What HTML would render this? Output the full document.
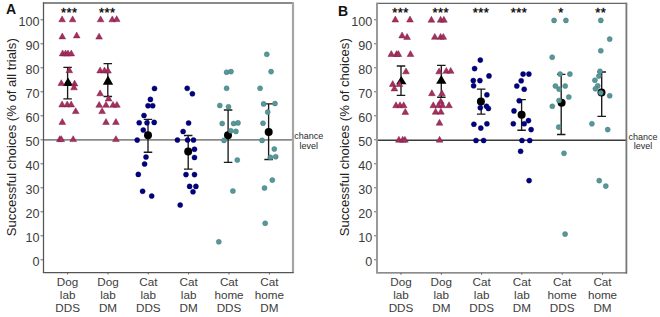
<!DOCTYPE html>
<html><head><meta charset="utf-8"><style>
html,body{margin:0;padding:0;background:#fff;width:660px;height:317px;overflow:hidden}
svg{display:block}
</style></head><body>
<svg width="660" height="317" viewBox="0 0 660 317">
<rect width="660" height="317" fill="#fff"/>
<line x1="40.50" y1="259.80" x2="43.50" y2="259.80" stroke="#6a6a6a" stroke-width="1"/>
<text x="39.60" y="266.00" text-anchor="end" font-size="12.6" fill="#3c3c3c" font-family="Liberation Sans, sans-serif">0</text>
<line x1="40.50" y1="235.80" x2="43.50" y2="235.80" stroke="#6a6a6a" stroke-width="1"/>
<text x="39.60" y="242.00" text-anchor="end" font-size="12.6" fill="#3c3c3c" font-family="Liberation Sans, sans-serif">10</text>
<line x1="40.50" y1="211.80" x2="43.50" y2="211.80" stroke="#6a6a6a" stroke-width="1"/>
<text x="39.60" y="218.00" text-anchor="end" font-size="12.6" fill="#3c3c3c" font-family="Liberation Sans, sans-serif">20</text>
<line x1="40.50" y1="187.80" x2="43.50" y2="187.80" stroke="#6a6a6a" stroke-width="1"/>
<text x="39.60" y="194.00" text-anchor="end" font-size="12.6" fill="#3c3c3c" font-family="Liberation Sans, sans-serif">30</text>
<line x1="40.50" y1="163.80" x2="43.50" y2="163.80" stroke="#6a6a6a" stroke-width="1"/>
<text x="39.60" y="170.00" text-anchor="end" font-size="12.6" fill="#3c3c3c" font-family="Liberation Sans, sans-serif">40</text>
<line x1="40.50" y1="139.80" x2="43.50" y2="139.80" stroke="#6a6a6a" stroke-width="1"/>
<text x="39.60" y="146.00" text-anchor="end" font-size="12.6" fill="#3c3c3c" font-family="Liberation Sans, sans-serif">50</text>
<line x1="40.50" y1="115.80" x2="43.50" y2="115.80" stroke="#6a6a6a" stroke-width="1"/>
<text x="39.60" y="122.00" text-anchor="end" font-size="12.6" fill="#3c3c3c" font-family="Liberation Sans, sans-serif">60</text>
<line x1="40.50" y1="91.80" x2="43.50" y2="91.80" stroke="#6a6a6a" stroke-width="1"/>
<text x="39.60" y="98.00" text-anchor="end" font-size="12.6" fill="#3c3c3c" font-family="Liberation Sans, sans-serif">70</text>
<line x1="40.50" y1="67.80" x2="43.50" y2="67.80" stroke="#6a6a6a" stroke-width="1"/>
<text x="39.60" y="74.00" text-anchor="end" font-size="12.6" fill="#3c3c3c" font-family="Liberation Sans, sans-serif">80</text>
<line x1="40.50" y1="43.80" x2="43.50" y2="43.80" stroke="#6a6a6a" stroke-width="1"/>
<text x="39.60" y="50.00" text-anchor="end" font-size="12.6" fill="#3c3c3c" font-family="Liberation Sans, sans-serif">90</text>
<line x1="40.50" y1="19.80" x2="43.50" y2="19.80" stroke="#6a6a6a" stroke-width="1"/>
<text x="39.60" y="26.00" text-anchor="end" font-size="12.6" fill="#3c3c3c" font-family="Liberation Sans, sans-serif">100</text>
<line x1="67.60" y1="272.50" x2="67.60" y2="274.50" stroke="#6a6a6a" stroke-width="1"/>
<text x="67.60" y="285.80" text-anchor="middle" font-size="11.7" fill="#3c3c3c" font-family="Liberation Sans, sans-serif">Dog</text>
<text x="67.60" y="298.90" text-anchor="middle" font-size="11.7" fill="#3c3c3c" font-family="Liberation Sans, sans-serif">lab</text>
<text x="67.60" y="312.00" text-anchor="middle" font-size="11.7" fill="#3c3c3c" font-family="Liberation Sans, sans-serif">DDS</text>
<line x1="108.00" y1="272.50" x2="108.00" y2="274.50" stroke="#6a6a6a" stroke-width="1"/>
<text x="108.00" y="285.80" text-anchor="middle" font-size="11.7" fill="#3c3c3c" font-family="Liberation Sans, sans-serif">Dog</text>
<text x="108.00" y="298.90" text-anchor="middle" font-size="11.7" fill="#3c3c3c" font-family="Liberation Sans, sans-serif">lab</text>
<text x="108.00" y="312.00" text-anchor="middle" font-size="11.7" fill="#3c3c3c" font-family="Liberation Sans, sans-serif">DM</text>
<line x1="148.30" y1="272.50" x2="148.30" y2="274.50" stroke="#6a6a6a" stroke-width="1"/>
<text x="148.30" y="285.80" text-anchor="middle" font-size="11.7" fill="#3c3c3c" font-family="Liberation Sans, sans-serif">Cat</text>
<text x="148.30" y="298.90" text-anchor="middle" font-size="11.7" fill="#3c3c3c" font-family="Liberation Sans, sans-serif">lab</text>
<text x="148.30" y="312.00" text-anchor="middle" font-size="11.7" fill="#3c3c3c" font-family="Liberation Sans, sans-serif">DDS</text>
<line x1="188.60" y1="272.50" x2="188.60" y2="274.50" stroke="#6a6a6a" stroke-width="1"/>
<text x="188.60" y="285.80" text-anchor="middle" font-size="11.7" fill="#3c3c3c" font-family="Liberation Sans, sans-serif">Cat</text>
<text x="188.60" y="298.90" text-anchor="middle" font-size="11.7" fill="#3c3c3c" font-family="Liberation Sans, sans-serif">lab</text>
<text x="188.60" y="312.00" text-anchor="middle" font-size="11.7" fill="#3c3c3c" font-family="Liberation Sans, sans-serif">DM</text>
<line x1="229.00" y1="272.50" x2="229.00" y2="274.50" stroke="#6a6a6a" stroke-width="1"/>
<text x="229.00" y="285.80" text-anchor="middle" font-size="11.7" fill="#3c3c3c" font-family="Liberation Sans, sans-serif">Cat</text>
<text x="229.00" y="298.90" text-anchor="middle" font-size="11.7" fill="#3c3c3c" font-family="Liberation Sans, sans-serif">home</text>
<text x="229.00" y="312.00" text-anchor="middle" font-size="11.7" fill="#3c3c3c" font-family="Liberation Sans, sans-serif">DDS</text>
<line x1="269.40" y1="272.50" x2="269.40" y2="274.50" stroke="#6a6a6a" stroke-width="1"/>
<text x="269.40" y="285.80" text-anchor="middle" font-size="11.7" fill="#3c3c3c" font-family="Liberation Sans, sans-serif">Cat</text>
<text x="269.40" y="298.90" text-anchor="middle" font-size="11.7" fill="#3c3c3c" font-family="Liberation Sans, sans-serif">home</text>
<text x="269.40" y="312.00" text-anchor="middle" font-size="11.7" fill="#3c3c3c" font-family="Liberation Sans, sans-serif">DM</text>
<text x="11.70" y="137.20" transform="rotate(-90 11.70 137.20)" text-anchor="middle" dominant-baseline="central" font-size="13.1" fill="#222" font-family="Liberation Sans, sans-serif">Successful choices (% of all trials)</text>
<text x="6.00" y="13.90" font-size="14" font-weight="bold" fill="#111" font-family="Liberation Sans, sans-serif">A</text>
<line x1="43.50" y1="139.90" x2="293.00" y2="139.90" stroke="#8a8a8a" stroke-width="1.8"/>
<text x="308.70" y="139.10" text-anchor="middle" font-size="9" fill="#2a2a2a" font-family="Liberation Sans, sans-serif">chance</text>
<text x="308.70" y="148.70" text-anchor="middle" font-size="9" fill="#2a2a2a" font-family="Liberation Sans, sans-serif">level</text>
<path d="M67.60 67.30V98.80M63.35 67.30H71.85M63.35 98.80H71.85" stroke="#1a1a1a" stroke-width="1.35" fill="none"/>
<path d="M107.80 63.60V96.50M103.55 63.60H112.05M103.55 96.50H112.05" stroke="#1a1a1a" stroke-width="1.35" fill="none"/>
<path d="M62.85 86.00L73.15 86.00L68.00 77.40Z" fill="#000"/>
<path d="M102.85 84.80L113.15 84.80L108.00 75.40Z" fill="#000"/>
<path d="M148.00 119.40V152.20M143.75 119.40H152.25M143.75 152.20H152.25" stroke="#1a1a1a" stroke-width="1.35" fill="none"/>
<path d="M188.20 135.50V169.10M183.95 135.50H192.45M183.95 169.10H192.45" stroke="#1a1a1a" stroke-width="1.35" fill="none"/>
<path d="M228.10 110.00V162.40M223.85 110.00H232.35M223.85 162.40H232.35" stroke="#1a1a1a" stroke-width="1.35" fill="none"/>
<path d="M268.60 103.90V159.50M264.35 103.90H272.85M264.35 159.50H272.85" stroke="#1a1a1a" stroke-width="1.35" fill="none"/>
<circle cx="148.00" cy="135.30" r="4.0" fill="#000"/>
<circle cx="188.20" cy="151.60" r="4.0" fill="#000"/>
<circle cx="228.00" cy="135.30" r="4.0" fill="#000"/>
<circle cx="268.70" cy="132.10" r="4.0" fill="#000"/>
<path d="M58.75 21.80L65.45 21.80L62.10 15.90Z" fill="#A92D5E" stroke="#6e1a3e" stroke-width="0.45" stroke-linejoin="round"/>
<path d="M69.25 21.80L75.95 21.80L72.60 15.90Z" fill="#A92D5E" stroke="#6e1a3e" stroke-width="0.45" stroke-linejoin="round"/>
<path d="M58.95 38.90L65.65 38.90L62.30 33.00Z" fill="#A92D5E" stroke="#6e1a3e" stroke-width="0.45" stroke-linejoin="round"/>
<path d="M73.35 37.90L80.05 37.90L76.70 32.00Z" fill="#A92D5E" stroke="#6e1a3e" stroke-width="0.45" stroke-linejoin="round"/>
<path d="M59.25 55.90L65.95 55.90L62.60 50.00Z" fill="#A92D5E" stroke="#6e1a3e" stroke-width="0.45" stroke-linejoin="round"/>
<path d="M62.15 55.90L68.85 55.90L65.50 50.00Z" fill="#A92D5E" stroke="#6e1a3e" stroke-width="0.45" stroke-linejoin="round"/>
<path d="M64.65 55.90L71.35 55.90L68.00 50.00Z" fill="#A92D5E" stroke="#6e1a3e" stroke-width="0.45" stroke-linejoin="round"/>
<path d="M67.95 55.90L74.65 55.90L71.30 50.00Z" fill="#A92D5E" stroke="#6e1a3e" stroke-width="0.45" stroke-linejoin="round"/>
<path d="M65.95 72.70L72.65 72.70L69.30 66.80Z" fill="#A92D5E" stroke="#6e1a3e" stroke-width="0.45" stroke-linejoin="round"/>
<path d="M57.95 85.60L64.65 85.60L61.30 79.70Z" fill="#A92D5E" stroke="#6e1a3e" stroke-width="0.45" stroke-linejoin="round"/>
<path d="M71.25 86.00L77.95 86.00L74.60 80.10Z" fill="#A92D5E" stroke="#6e1a3e" stroke-width="0.45" stroke-linejoin="round"/>
<path d="M70.65 89.80L77.35 89.80L74.00 83.90Z" fill="#A92D5E" stroke="#6e1a3e" stroke-width="0.45" stroke-linejoin="round"/>
<path d="M58.75 106.90L65.45 106.90L62.10 101.00Z" fill="#A92D5E" stroke="#6e1a3e" stroke-width="0.45" stroke-linejoin="round"/>
<path d="M63.85 106.90L70.55 106.90L67.20 101.00Z" fill="#A92D5E" stroke="#6e1a3e" stroke-width="0.45" stroke-linejoin="round"/>
<path d="M67.85 106.90L74.55 106.90L71.20 101.00Z" fill="#A92D5E" stroke="#6e1a3e" stroke-width="0.45" stroke-linejoin="round"/>
<path d="M72.35 113.60L79.05 113.60L75.70 107.70Z" fill="#A92D5E" stroke="#6e1a3e" stroke-width="0.45" stroke-linejoin="round"/>
<path d="M58.95 124.40L65.65 124.40L62.30 118.50Z" fill="#A92D5E" stroke="#6e1a3e" stroke-width="0.45" stroke-linejoin="round"/>
<path d="M56.45 141.60L63.15 141.60L59.80 135.70Z" fill="#A92D5E" stroke="#6e1a3e" stroke-width="0.45" stroke-linejoin="round"/>
<path d="M57.95 141.60L64.65 141.60L61.30 135.70Z" fill="#A92D5E" stroke="#6e1a3e" stroke-width="0.45" stroke-linejoin="round"/>
<path d="M69.85 141.60L76.55 141.60L73.20 135.70Z" fill="#A92D5E" stroke="#6e1a3e" stroke-width="0.45" stroke-linejoin="round"/>
<path d="M97.25 21.80L103.95 21.80L100.60 15.90Z" fill="#A92D5E" stroke="#6e1a3e" stroke-width="0.45" stroke-linejoin="round"/>
<path d="M108.95 21.80L115.65 21.80L112.30 15.90Z" fill="#A92D5E" stroke="#6e1a3e" stroke-width="0.45" stroke-linejoin="round"/>
<path d="M113.35 21.60L120.05 21.60L116.70 15.70Z" fill="#A92D5E" stroke="#6e1a3e" stroke-width="0.45" stroke-linejoin="round"/>
<path d="M95.75 39.10L102.45 39.10L99.10 33.20Z" fill="#A92D5E" stroke="#6e1a3e" stroke-width="0.45" stroke-linejoin="round"/>
<path d="M96.75 72.90L103.45 72.90L100.10 67.00Z" fill="#A92D5E" stroke="#6e1a3e" stroke-width="0.45" stroke-linejoin="round"/>
<path d="M101.15 72.90L107.85 72.90L104.50 67.00Z" fill="#A92D5E" stroke="#6e1a3e" stroke-width="0.45" stroke-linejoin="round"/>
<path d="M104.65 73.10L111.35 73.10L108.00 67.20Z" fill="#A92D5E" stroke="#6e1a3e" stroke-width="0.45" stroke-linejoin="round"/>
<path d="M96.75 95.80L103.45 95.80L100.10 89.90Z" fill="#A92D5E" stroke="#6e1a3e" stroke-width="0.45" stroke-linejoin="round"/>
<path d="M105.25 101.00L111.95 101.00L108.60 95.10Z" fill="#A92D5E" stroke="#6e1a3e" stroke-width="0.45" stroke-linejoin="round"/>
<path d="M95.85 107.30L102.55 107.30L99.20 101.40Z" fill="#A92D5E" stroke="#6e1a3e" stroke-width="0.45" stroke-linejoin="round"/>
<path d="M102.65 107.30L109.35 107.30L106.00 101.40Z" fill="#A92D5E" stroke="#6e1a3e" stroke-width="0.45" stroke-linejoin="round"/>
<path d="M109.65 107.30L116.35 107.30L113.00 101.40Z" fill="#A92D5E" stroke="#6e1a3e" stroke-width="0.45" stroke-linejoin="round"/>
<path d="M113.55 107.30L120.25 107.30L116.90 101.40Z" fill="#A92D5E" stroke="#6e1a3e" stroke-width="0.45" stroke-linejoin="round"/>
<path d="M98.75 113.60L105.45 113.60L102.10 107.70Z" fill="#A92D5E" stroke="#6e1a3e" stroke-width="0.45" stroke-linejoin="round"/>
<path d="M102.65 124.40L109.35 124.40L106.00 118.50Z" fill="#A92D5E" stroke="#6e1a3e" stroke-width="0.45" stroke-linejoin="round"/>
<path d="M112.55 124.40L119.25 124.40L115.90 118.50Z" fill="#A92D5E" stroke="#6e1a3e" stroke-width="0.45" stroke-linejoin="round"/>
<path d="M112.55 141.60L119.25 141.60L115.90 135.70Z" fill="#A92D5E" stroke="#6e1a3e" stroke-width="0.45" stroke-linejoin="round"/>
<circle cx="154.50" cy="88.50" r="2.55" fill="#000080" stroke="#000050" stroke-width="0.4"/>
<circle cx="150.40" cy="99.40" r="2.55" fill="#000080" stroke="#000050" stroke-width="0.4"/>
<circle cx="148.00" cy="105.70" r="2.55" fill="#000080" stroke="#000050" stroke-width="0.4"/>
<circle cx="152.70" cy="105.70" r="2.55" fill="#000080" stroke="#000050" stroke-width="0.4"/>
<circle cx="144.00" cy="115.50" r="2.55" fill="#000080" stroke="#000050" stroke-width="0.4"/>
<circle cx="139.20" cy="122.70" r="2.55" fill="#000080" stroke="#000050" stroke-width="0.4"/>
<circle cx="147.00" cy="122.80" r="2.55" fill="#000080" stroke="#000050" stroke-width="0.4"/>
<circle cx="154.20" cy="122.40" r="2.55" fill="#000080" stroke="#000050" stroke-width="0.4"/>
<circle cx="143.30" cy="130.00" r="2.55" fill="#000080" stroke="#000050" stroke-width="0.4"/>
<circle cx="137.20" cy="140.10" r="2.55" fill="#000080" stroke="#000050" stroke-width="0.4"/>
<circle cx="146.00" cy="157.00" r="2.55" fill="#000080" stroke="#000050" stroke-width="0.4"/>
<circle cx="144.60" cy="164.00" r="2.55" fill="#000080" stroke="#000050" stroke-width="0.4"/>
<circle cx="138.30" cy="174.40" r="2.55" fill="#000080" stroke="#000050" stroke-width="0.4"/>
<circle cx="142.60" cy="191.20" r="2.55" fill="#000080" stroke="#000050" stroke-width="0.4"/>
<circle cx="151.70" cy="196.00" r="2.55" fill="#000080" stroke="#000050" stroke-width="0.4"/>
<circle cx="187.20" cy="88.30" r="2.55" fill="#000080" stroke="#000050" stroke-width="0.4"/>
<circle cx="192.40" cy="93.80" r="2.55" fill="#000080" stroke="#000050" stroke-width="0.4"/>
<circle cx="188.60" cy="123.00" r="2.55" fill="#000080" stroke="#000050" stroke-width="0.4"/>
<circle cx="183.10" cy="131.50" r="2.55" fill="#000080" stroke="#000050" stroke-width="0.4"/>
<circle cx="177.40" cy="140.00" r="2.55" fill="#000080" stroke="#000050" stroke-width="0.4"/>
<circle cx="187.60" cy="140.00" r="2.55" fill="#000080" stroke="#000050" stroke-width="0.4"/>
<circle cx="193.50" cy="140.00" r="2.55" fill="#000080" stroke="#000050" stroke-width="0.4"/>
<circle cx="194.50" cy="149.20" r="2.55" fill="#000080" stroke="#000050" stroke-width="0.4"/>
<circle cx="194.50" cy="157.50" r="2.55" fill="#000080" stroke="#000050" stroke-width="0.4"/>
<circle cx="186.00" cy="174.60" r="2.55" fill="#000080" stroke="#000050" stroke-width="0.4"/>
<circle cx="194.50" cy="174.60" r="2.55" fill="#000080" stroke="#000050" stroke-width="0.4"/>
<circle cx="189.60" cy="186.40" r="2.55" fill="#000080" stroke="#000050" stroke-width="0.4"/>
<circle cx="195.90" cy="186.40" r="2.55" fill="#000080" stroke="#000050" stroke-width="0.4"/>
<circle cx="193.00" cy="191.80" r="2.55" fill="#000080" stroke="#000050" stroke-width="0.4"/>
<circle cx="180.20" cy="205.00" r="2.55" fill="#000080" stroke="#000050" stroke-width="0.4"/>
<circle cx="226.60" cy="72.20" r="2.55" fill="#57979A" stroke="#3d7375" stroke-width="0.4"/>
<circle cx="231.00" cy="71.60" r="2.55" fill="#57979A" stroke="#3d7375" stroke-width="0.4"/>
<circle cx="226.60" cy="88.30" r="2.55" fill="#57979A" stroke="#3d7375" stroke-width="0.4"/>
<circle cx="219.80" cy="105.50" r="2.55" fill="#57979A" stroke="#3d7375" stroke-width="0.4"/>
<circle cx="228.50" cy="106.80" r="2.55" fill="#57979A" stroke="#3d7375" stroke-width="0.4"/>
<circle cx="222.20" cy="123.50" r="2.55" fill="#57979A" stroke="#3d7375" stroke-width="0.4"/>
<circle cx="233.60" cy="123.50" r="2.55" fill="#57979A" stroke="#3d7375" stroke-width="0.4"/>
<circle cx="238.00" cy="122.90" r="2.55" fill="#57979A" stroke="#3d7375" stroke-width="0.4"/>
<circle cx="230.80" cy="130.80" r="2.55" fill="#57979A" stroke="#3d7375" stroke-width="0.4"/>
<circle cx="235.90" cy="131.40" r="2.55" fill="#57979A" stroke="#3d7375" stroke-width="0.4"/>
<circle cx="224.00" cy="140.40" r="2.55" fill="#57979A" stroke="#3d7375" stroke-width="0.4"/>
<circle cx="237.30" cy="160.00" r="2.55" fill="#57979A" stroke="#3d7375" stroke-width="0.4"/>
<circle cx="232.90" cy="191.00" r="2.55" fill="#57979A" stroke="#3d7375" stroke-width="0.4"/>
<circle cx="218.80" cy="241.80" r="2.55" fill="#57979A" stroke="#3d7375" stroke-width="0.4"/>
<circle cx="266.80" cy="54.30" r="2.55" fill="#57979A" stroke="#3d7375" stroke-width="0.4"/>
<circle cx="271.10" cy="71.60" r="2.55" fill="#57979A" stroke="#3d7375" stroke-width="0.4"/>
<circle cx="260.10" cy="88.30" r="2.55" fill="#57979A" stroke="#3d7375" stroke-width="0.4"/>
<circle cx="263.60" cy="103.90" r="2.55" fill="#57979A" stroke="#3d7375" stroke-width="0.4"/>
<circle cx="275.00" cy="103.50" r="2.55" fill="#57979A" stroke="#3d7375" stroke-width="0.4"/>
<circle cx="267.70" cy="112.10" r="2.55" fill="#57979A" stroke="#3d7375" stroke-width="0.4"/>
<circle cx="263.00" cy="123.20" r="2.55" fill="#57979A" stroke="#3d7375" stroke-width="0.4"/>
<circle cx="262.10" cy="140.40" r="2.55" fill="#57979A" stroke="#3d7375" stroke-width="0.4"/>
<circle cx="274.30" cy="149.00" r="2.55" fill="#57979A" stroke="#3d7375" stroke-width="0.4"/>
<circle cx="270.40" cy="157.30" r="2.55" fill="#57979A" stroke="#3d7375" stroke-width="0.4"/>
<circle cx="275.70" cy="156.70" r="2.55" fill="#57979A" stroke="#3d7375" stroke-width="0.4"/>
<circle cx="272.30" cy="180.10" r="2.55" fill="#57979A" stroke="#3d7375" stroke-width="0.4"/>
<circle cx="264.50" cy="188.00" r="2.55" fill="#57979A" stroke="#3d7375" stroke-width="0.4"/>
<circle cx="265.20" cy="223.30" r="2.55" fill="#57979A" stroke="#3d7375" stroke-width="0.4"/>
<text x="63.50" y="17.30" text-anchor="middle" font-size="13" fill="#000" stroke="#000" stroke-width="0.3" font-family="Liberation Sans, sans-serif">*</text><text x="69.00" y="17.30" text-anchor="middle" font-size="13" fill="#000" stroke="#000" stroke-width="0.3" font-family="Liberation Sans, sans-serif">*</text><text x="74.50" y="17.30" text-anchor="middle" font-size="13" fill="#000" stroke="#000" stroke-width="0.3" font-family="Liberation Sans, sans-serif">*</text>
<text x="101.50" y="17.30" text-anchor="middle" font-size="13" fill="#000" stroke="#000" stroke-width="0.3" font-family="Liberation Sans, sans-serif">*</text><text x="107.00" y="17.30" text-anchor="middle" font-size="13" fill="#000" stroke="#000" stroke-width="0.3" font-family="Liberation Sans, sans-serif">*</text><text x="112.50" y="17.30" text-anchor="middle" font-size="13" fill="#000" stroke="#000" stroke-width="0.3" font-family="Liberation Sans, sans-serif">*</text>
<path d="M42.90 3.00H293.60" stroke="#8a8a8a" stroke-width="2.0" fill="none"/>
<path d="M293.00 2.40V273.10" stroke="#a5a5a5" stroke-width="2.2" fill="none"/>
<path d="M43.50 2.40V273.10" stroke="#555" stroke-width="1.25" fill="none"/>
<path d="M42.90 272.50H293.60" stroke="#555" stroke-width="1.25" fill="none"/>
<line x1="374.00" y1="259.80" x2="377.00" y2="259.80" stroke="#6a6a6a" stroke-width="1"/>
<text x="372.20" y="266.00" text-anchor="end" font-size="12.6" fill="#3c3c3c" font-family="Liberation Sans, sans-serif">0</text>
<line x1="374.00" y1="235.80" x2="377.00" y2="235.80" stroke="#6a6a6a" stroke-width="1"/>
<text x="372.20" y="242.00" text-anchor="end" font-size="12.6" fill="#3c3c3c" font-family="Liberation Sans, sans-serif">10</text>
<line x1="374.00" y1="211.80" x2="377.00" y2="211.80" stroke="#6a6a6a" stroke-width="1"/>
<text x="372.20" y="218.00" text-anchor="end" font-size="12.6" fill="#3c3c3c" font-family="Liberation Sans, sans-serif">20</text>
<line x1="374.00" y1="187.80" x2="377.00" y2="187.80" stroke="#6a6a6a" stroke-width="1"/>
<text x="372.20" y="194.00" text-anchor="end" font-size="12.6" fill="#3c3c3c" font-family="Liberation Sans, sans-serif">30</text>
<line x1="374.00" y1="163.80" x2="377.00" y2="163.80" stroke="#6a6a6a" stroke-width="1"/>
<text x="372.20" y="170.00" text-anchor="end" font-size="12.6" fill="#3c3c3c" font-family="Liberation Sans, sans-serif">40</text>
<line x1="374.00" y1="139.80" x2="377.00" y2="139.80" stroke="#6a6a6a" stroke-width="1"/>
<text x="372.20" y="146.00" text-anchor="end" font-size="12.6" fill="#3c3c3c" font-family="Liberation Sans, sans-serif">50</text>
<line x1="374.00" y1="115.80" x2="377.00" y2="115.80" stroke="#6a6a6a" stroke-width="1"/>
<text x="372.20" y="122.00" text-anchor="end" font-size="12.6" fill="#3c3c3c" font-family="Liberation Sans, sans-serif">60</text>
<line x1="374.00" y1="91.80" x2="377.00" y2="91.80" stroke="#6a6a6a" stroke-width="1"/>
<text x="372.20" y="98.00" text-anchor="end" font-size="12.6" fill="#3c3c3c" font-family="Liberation Sans, sans-serif">70</text>
<line x1="374.00" y1="67.80" x2="377.00" y2="67.80" stroke="#6a6a6a" stroke-width="1"/>
<text x="372.20" y="74.00" text-anchor="end" font-size="12.6" fill="#3c3c3c" font-family="Liberation Sans, sans-serif">80</text>
<line x1="374.00" y1="43.80" x2="377.00" y2="43.80" stroke="#6a6a6a" stroke-width="1"/>
<text x="372.20" y="50.00" text-anchor="end" font-size="12.6" fill="#3c3c3c" font-family="Liberation Sans, sans-serif">90</text>
<line x1="374.00" y1="19.80" x2="377.00" y2="19.80" stroke="#6a6a6a" stroke-width="1"/>
<text x="372.20" y="26.00" text-anchor="end" font-size="12.6" fill="#3c3c3c" font-family="Liberation Sans, sans-serif">100</text>
<line x1="401.00" y1="272.80" x2="401.00" y2="274.80" stroke="#6a6a6a" stroke-width="1"/>
<text x="401.00" y="285.80" text-anchor="middle" font-size="11.7" fill="#3c3c3c" font-family="Liberation Sans, sans-serif">Dog</text>
<text x="401.00" y="298.90" text-anchor="middle" font-size="11.7" fill="#3c3c3c" font-family="Liberation Sans, sans-serif">lab</text>
<text x="401.00" y="312.00" text-anchor="middle" font-size="11.7" fill="#3c3c3c" font-family="Liberation Sans, sans-serif">DDS</text>
<line x1="441.30" y1="272.80" x2="441.30" y2="274.80" stroke="#6a6a6a" stroke-width="1"/>
<text x="441.30" y="285.80" text-anchor="middle" font-size="11.7" fill="#3c3c3c" font-family="Liberation Sans, sans-serif">Dog</text>
<text x="441.30" y="298.90" text-anchor="middle" font-size="11.7" fill="#3c3c3c" font-family="Liberation Sans, sans-serif">lab</text>
<text x="441.30" y="312.00" text-anchor="middle" font-size="11.7" fill="#3c3c3c" font-family="Liberation Sans, sans-serif">DM</text>
<line x1="481.60" y1="272.80" x2="481.60" y2="274.80" stroke="#6a6a6a" stroke-width="1"/>
<text x="481.60" y="285.80" text-anchor="middle" font-size="11.7" fill="#3c3c3c" font-family="Liberation Sans, sans-serif">Cat</text>
<text x="481.60" y="298.90" text-anchor="middle" font-size="11.7" fill="#3c3c3c" font-family="Liberation Sans, sans-serif">lab</text>
<text x="481.60" y="312.00" text-anchor="middle" font-size="11.7" fill="#3c3c3c" font-family="Liberation Sans, sans-serif">DDS</text>
<line x1="521.90" y1="272.80" x2="521.90" y2="274.80" stroke="#6a6a6a" stroke-width="1"/>
<text x="521.90" y="285.80" text-anchor="middle" font-size="11.7" fill="#3c3c3c" font-family="Liberation Sans, sans-serif">Cat</text>
<text x="521.90" y="298.90" text-anchor="middle" font-size="11.7" fill="#3c3c3c" font-family="Liberation Sans, sans-serif">lab</text>
<text x="521.90" y="312.00" text-anchor="middle" font-size="11.7" fill="#3c3c3c" font-family="Liberation Sans, sans-serif">DM</text>
<line x1="562.20" y1="272.80" x2="562.20" y2="274.80" stroke="#6a6a6a" stroke-width="1"/>
<text x="562.20" y="285.80" text-anchor="middle" font-size="11.7" fill="#3c3c3c" font-family="Liberation Sans, sans-serif">Cat</text>
<text x="562.20" y="298.90" text-anchor="middle" font-size="11.7" fill="#3c3c3c" font-family="Liberation Sans, sans-serif">home</text>
<text x="562.20" y="312.00" text-anchor="middle" font-size="11.7" fill="#3c3c3c" font-family="Liberation Sans, sans-serif">DDS</text>
<line x1="602.50" y1="272.80" x2="602.50" y2="274.80" stroke="#6a6a6a" stroke-width="1"/>
<text x="602.50" y="285.80" text-anchor="middle" font-size="11.7" fill="#3c3c3c" font-family="Liberation Sans, sans-serif">Cat</text>
<text x="602.50" y="298.90" text-anchor="middle" font-size="11.7" fill="#3c3c3c" font-family="Liberation Sans, sans-serif">home</text>
<text x="602.50" y="312.00" text-anchor="middle" font-size="11.7" fill="#3c3c3c" font-family="Liberation Sans, sans-serif">DM</text>
<text x="344.30" y="137.20" transform="rotate(-90 344.30 137.20)" text-anchor="middle" dominant-baseline="central" font-size="13.1" fill="#222" font-family="Liberation Sans, sans-serif">Successful choices (% of choices)</text>
<text x="338.00" y="16.00" font-size="14" font-weight="bold" fill="#111" font-family="Liberation Sans, sans-serif">B</text>
<line x1="377.00" y1="140.30" x2="626.40" y2="140.30" stroke="#3a3a3a" stroke-width="1.5"/>
<text x="643.10" y="139.70" text-anchor="middle" font-size="9" fill="#2a2a2a" font-family="Liberation Sans, sans-serif">chance</text>
<text x="643.10" y="149.30" text-anchor="middle" font-size="9" fill="#2a2a2a" font-family="Liberation Sans, sans-serif">level</text>
<path d="M401.00 66.00V95.40M396.75 66.00H405.25M396.75 95.40H405.25" stroke="#1a1a1a" stroke-width="1.35" fill="none"/>
<path d="M441.30 65.30V97.20M437.05 65.30H445.55M437.05 97.20H445.55" stroke="#1a1a1a" stroke-width="1.35" fill="none"/>
<path d="M396.15 84.30L406.45 84.30L401.30 76.00Z" fill="#000"/>
<path d="M436.15 83.80L446.45 83.80L441.30 74.90Z" fill="#000"/>
<path d="M481.20 89.10V114.10M476.95 89.10H485.45M476.95 114.10H485.45" stroke="#1a1a1a" stroke-width="1.35" fill="none"/>
<path d="M521.60 99.60V130.20M517.35 99.60H525.85M517.35 130.20H525.85" stroke="#1a1a1a" stroke-width="1.35" fill="none"/>
<path d="M561.20 74.40V134.50M556.95 74.40H565.45M556.95 134.50H565.45" stroke="#1a1a1a" stroke-width="1.35" fill="none"/>
<path d="M601.70 72.00V116.40M597.45 72.00H605.95M597.45 116.40H605.95" stroke="#1a1a1a" stroke-width="1.35" fill="none"/>
<circle cx="480.90" cy="101.40" r="4.0" fill="#000"/>
<circle cx="521.60" cy="114.80" r="4.0" fill="#000"/>
<circle cx="561.60" cy="102.80" r="4.0" fill="#000"/>
<circle cx="601.50" cy="92.60" r="4.0" fill="#000"/>
<path d="M391.95 22.00L398.65 22.00L395.30 16.10Z" fill="#A92D5E" stroke="#6e1a3e" stroke-width="0.45" stroke-linejoin="round"/>
<path d="M406.65 22.00L413.35 22.00L410.00 16.10Z" fill="#A92D5E" stroke="#6e1a3e" stroke-width="0.45" stroke-linejoin="round"/>
<path d="M398.75 37.90L405.45 37.90L402.10 32.00Z" fill="#A92D5E" stroke="#6e1a3e" stroke-width="0.45" stroke-linejoin="round"/>
<path d="M403.75 39.40L410.45 39.40L407.10 33.50Z" fill="#A92D5E" stroke="#6e1a3e" stroke-width="0.45" stroke-linejoin="round"/>
<path d="M387.95 56.50L394.65 56.50L391.30 50.60Z" fill="#A92D5E" stroke="#6e1a3e" stroke-width="0.45" stroke-linejoin="round"/>
<path d="M393.25 56.50L399.95 56.50L396.60 50.60Z" fill="#A92D5E" stroke="#6e1a3e" stroke-width="0.45" stroke-linejoin="round"/>
<path d="M395.05 56.50L401.75 56.50L398.40 50.60Z" fill="#A92D5E" stroke="#6e1a3e" stroke-width="0.45" stroke-linejoin="round"/>
<path d="M407.15 56.50L413.85 56.50L410.50 50.60Z" fill="#A92D5E" stroke="#6e1a3e" stroke-width="0.45" stroke-linejoin="round"/>
<path d="M402.65 73.80L409.35 73.80L406.00 67.90Z" fill="#A92D5E" stroke="#6e1a3e" stroke-width="0.45" stroke-linejoin="round"/>
<path d="M389.35 86.50L396.05 86.50L392.70 80.60Z" fill="#A92D5E" stroke="#6e1a3e" stroke-width="0.45" stroke-linejoin="round"/>
<path d="M396.05 86.50L402.75 86.50L399.40 80.60Z" fill="#A92D5E" stroke="#6e1a3e" stroke-width="0.45" stroke-linejoin="round"/>
<path d="M391.05 90.90L397.75 90.90L394.40 85.00Z" fill="#A92D5E" stroke="#6e1a3e" stroke-width="0.45" stroke-linejoin="round"/>
<path d="M392.65 107.70L399.35 107.70L396.00 101.80Z" fill="#A92D5E" stroke="#6e1a3e" stroke-width="0.45" stroke-linejoin="round"/>
<path d="M396.65 107.70L403.35 107.70L400.00 101.80Z" fill="#A92D5E" stroke="#6e1a3e" stroke-width="0.45" stroke-linejoin="round"/>
<path d="M400.35 107.70L407.05 107.70L403.70 101.80Z" fill="#A92D5E" stroke="#6e1a3e" stroke-width="0.45" stroke-linejoin="round"/>
<path d="M401.95 114.40L408.65 114.40L405.30 108.50Z" fill="#A92D5E" stroke="#6e1a3e" stroke-width="0.45" stroke-linejoin="round"/>
<path d="M395.55 142.20L402.25 142.20L398.90 136.30Z" fill="#A92D5E" stroke="#6e1a3e" stroke-width="0.45" stroke-linejoin="round"/>
<path d="M399.35 142.20L406.05 142.20L402.70 136.30Z" fill="#A92D5E" stroke="#6e1a3e" stroke-width="0.45" stroke-linejoin="round"/>
<path d="M401.55 142.20L408.25 142.20L404.90 136.30Z" fill="#A92D5E" stroke="#6e1a3e" stroke-width="0.45" stroke-linejoin="round"/>
<path d="M428.05 22.20L434.75 22.20L431.40 16.30Z" fill="#A92D5E" stroke="#6e1a3e" stroke-width="0.45" stroke-linejoin="round"/>
<path d="M437.25 22.20L443.95 22.20L440.60 16.30Z" fill="#A92D5E" stroke="#6e1a3e" stroke-width="0.45" stroke-linejoin="round"/>
<path d="M440.55 22.20L447.25 22.20L443.90 16.30Z" fill="#A92D5E" stroke="#6e1a3e" stroke-width="0.45" stroke-linejoin="round"/>
<path d="M431.45 39.30L438.15 39.30L434.80 33.40Z" fill="#A92D5E" stroke="#6e1a3e" stroke-width="0.45" stroke-linejoin="round"/>
<path d="M437.25 39.30L443.95 39.30L440.60 33.40Z" fill="#A92D5E" stroke="#6e1a3e" stroke-width="0.45" stroke-linejoin="round"/>
<path d="M439.95 39.30L446.65 39.30L443.30 33.40Z" fill="#A92D5E" stroke="#6e1a3e" stroke-width="0.45" stroke-linejoin="round"/>
<path d="M435.75 73.80L442.45 73.80L439.10 67.90Z" fill="#A92D5E" stroke="#6e1a3e" stroke-width="0.45" stroke-linejoin="round"/>
<path d="M442.95 73.30L449.65 73.30L446.30 67.40Z" fill="#A92D5E" stroke="#6e1a3e" stroke-width="0.45" stroke-linejoin="round"/>
<path d="M447.35 73.30L454.05 73.30L450.70 67.40Z" fill="#A92D5E" stroke="#6e1a3e" stroke-width="0.45" stroke-linejoin="round"/>
<path d="M428.55 95.70L435.25 95.70L431.90 89.80Z" fill="#A92D5E" stroke="#6e1a3e" stroke-width="0.45" stroke-linejoin="round"/>
<path d="M438.55 95.70L445.25 95.70L441.90 89.80Z" fill="#A92D5E" stroke="#6e1a3e" stroke-width="0.45" stroke-linejoin="round"/>
<path d="M437.45 103.80L444.15 103.80L440.80 97.90Z" fill="#A92D5E" stroke="#6e1a3e" stroke-width="0.45" stroke-linejoin="round"/>
<path d="M429.95 107.70L436.65 107.70L433.30 101.80Z" fill="#A92D5E" stroke="#6e1a3e" stroke-width="0.45" stroke-linejoin="round"/>
<path d="M435.15 107.70L441.85 107.70L438.50 101.80Z" fill="#A92D5E" stroke="#6e1a3e" stroke-width="0.45" stroke-linejoin="round"/>
<path d="M439.15 107.70L445.85 107.70L442.50 101.80Z" fill="#A92D5E" stroke="#6e1a3e" stroke-width="0.45" stroke-linejoin="round"/>
<path d="M445.65 107.70L452.35 107.70L449.00 101.80Z" fill="#A92D5E" stroke="#6e1a3e" stroke-width="0.45" stroke-linejoin="round"/>
<path d="M432.25 114.20L438.95 114.20L435.60 108.30Z" fill="#A92D5E" stroke="#6e1a3e" stroke-width="0.45" stroke-linejoin="round"/>
<path d="M437.55 114.20L444.25 114.20L440.90 108.30Z" fill="#A92D5E" stroke="#6e1a3e" stroke-width="0.45" stroke-linejoin="round"/>
<path d="M436.15 125.20L442.85 125.20L439.50 119.30Z" fill="#A92D5E" stroke="#6e1a3e" stroke-width="0.45" stroke-linejoin="round"/>
<path d="M436.25 142.20L442.95 142.20L439.60 136.30Z" fill="#A92D5E" stroke="#6e1a3e" stroke-width="0.45" stroke-linejoin="round"/>
<circle cx="480.30" cy="60.10" r="2.55" fill="#000080" stroke="#000050" stroke-width="0.4"/>
<circle cx="474.60" cy="68.60" r="2.55" fill="#000080" stroke="#000050" stroke-width="0.4"/>
<circle cx="489.00" cy="75.90" r="2.55" fill="#000080" stroke="#000050" stroke-width="0.4"/>
<circle cx="473.30" cy="80.60" r="2.55" fill="#000080" stroke="#000050" stroke-width="0.4"/>
<circle cx="479.90" cy="80.60" r="2.55" fill="#000080" stroke="#000050" stroke-width="0.4"/>
<circle cx="473.60" cy="85.80" r="2.55" fill="#000080" stroke="#000050" stroke-width="0.4"/>
<circle cx="486.90" cy="94.80" r="2.55" fill="#000080" stroke="#000050" stroke-width="0.4"/>
<circle cx="480.30" cy="107.70" r="2.55" fill="#000080" stroke="#000050" stroke-width="0.4"/>
<circle cx="486.50" cy="106.20" r="2.55" fill="#000080" stroke="#000050" stroke-width="0.4"/>
<circle cx="488.40" cy="108.50" r="2.55" fill="#000080" stroke="#000050" stroke-width="0.4"/>
<circle cx="473.90" cy="124.20" r="2.55" fill="#000080" stroke="#000050" stroke-width="0.4"/>
<circle cx="486.90" cy="123.80" r="2.55" fill="#000080" stroke="#000050" stroke-width="0.4"/>
<circle cx="480.80" cy="128.10" r="2.55" fill="#000080" stroke="#000050" stroke-width="0.4"/>
<circle cx="476.00" cy="140.50" r="2.55" fill="#000080" stroke="#000050" stroke-width="0.4"/>
<circle cx="483.60" cy="140.50" r="2.55" fill="#000080" stroke="#000050" stroke-width="0.4"/>
<circle cx="523.10" cy="74.10" r="2.55" fill="#000080" stroke="#000050" stroke-width="0.4"/>
<circle cx="528.90" cy="74.10" r="2.55" fill="#000080" stroke="#000050" stroke-width="0.4"/>
<circle cx="521.20" cy="80.80" r="2.55" fill="#000080" stroke="#000050" stroke-width="0.4"/>
<circle cx="516.80" cy="86.00" r="2.55" fill="#000080" stroke="#000050" stroke-width="0.4"/>
<circle cx="524.20" cy="89.20" r="2.55" fill="#000080" stroke="#000050" stroke-width="0.4"/>
<circle cx="519.20" cy="100.70" r="2.55" fill="#000080" stroke="#000050" stroke-width="0.4"/>
<circle cx="514.00" cy="110.90" r="2.55" fill="#000080" stroke="#000050" stroke-width="0.4"/>
<circle cx="528.50" cy="120.60" r="2.55" fill="#000080" stroke="#000050" stroke-width="0.4"/>
<circle cx="513.30" cy="123.70" r="2.55" fill="#000080" stroke="#000050" stroke-width="0.4"/>
<circle cx="524.20" cy="123.70" r="2.55" fill="#000080" stroke="#000050" stroke-width="0.4"/>
<circle cx="531.10" cy="129.60" r="2.55" fill="#000080" stroke="#000050" stroke-width="0.4"/>
<circle cx="522.00" cy="140.50" r="2.55" fill="#000080" stroke="#000050" stroke-width="0.4"/>
<circle cx="529.70" cy="140.50" r="2.55" fill="#000080" stroke="#000050" stroke-width="0.4"/>
<circle cx="520.60" cy="151.30" r="2.55" fill="#000080" stroke="#000050" stroke-width="0.4"/>
<circle cx="529.10" cy="180.60" r="2.55" fill="#000080" stroke="#000050" stroke-width="0.4"/>
<circle cx="554.10" cy="20.40" r="2.55" fill="#57979A" stroke="#3d7375" stroke-width="0.4"/>
<circle cx="565.90" cy="20.40" r="2.55" fill="#57979A" stroke="#3d7375" stroke-width="0.4"/>
<circle cx="552.20" cy="57.20" r="2.55" fill="#57979A" stroke="#3d7375" stroke-width="0.4"/>
<circle cx="560.10" cy="74.10" r="2.55" fill="#57979A" stroke="#3d7375" stroke-width="0.4"/>
<circle cx="569.90" cy="74.10" r="2.55" fill="#57979A" stroke="#3d7375" stroke-width="0.4"/>
<circle cx="555.40" cy="86.00" r="2.55" fill="#57979A" stroke="#3d7375" stroke-width="0.4"/>
<circle cx="565.20" cy="86.00" r="2.55" fill="#57979A" stroke="#3d7375" stroke-width="0.4"/>
<circle cx="559.00" cy="89.10" r="2.55" fill="#57979A" stroke="#3d7375" stroke-width="0.4"/>
<circle cx="568.80" cy="97.00" r="2.55" fill="#57979A" stroke="#3d7375" stroke-width="0.4"/>
<circle cx="559.00" cy="100.50" r="2.55" fill="#57979A" stroke="#3d7375" stroke-width="0.4"/>
<circle cx="552.30" cy="106.30" r="2.55" fill="#57979A" stroke="#3d7375" stroke-width="0.4"/>
<circle cx="558.70" cy="127.10" r="2.55" fill="#57979A" stroke="#3d7375" stroke-width="0.4"/>
<circle cx="564.00" cy="153.30" r="2.55" fill="#57979A" stroke="#3d7375" stroke-width="0.4"/>
<circle cx="565.10" cy="234.10" r="2.55" fill="#57979A" stroke="#3d7375" stroke-width="0.4"/>
<circle cx="600.80" cy="20.40" r="2.55" fill="#57979A" stroke="#3d7375" stroke-width="0.4"/>
<circle cx="609.70" cy="39.10" r="2.55" fill="#57979A" stroke="#3d7375" stroke-width="0.4"/>
<circle cx="600.80" cy="50.70" r="2.55" fill="#57979A" stroke="#3d7375" stroke-width="0.4"/>
<circle cx="600.00" cy="71.30" r="2.55" fill="#57979A" stroke="#3d7375" stroke-width="0.4"/>
<circle cx="598.90" cy="76.00" r="2.55" fill="#57979A" stroke="#3d7375" stroke-width="0.4"/>
<circle cx="594.90" cy="80.20" r="2.55" fill="#57979A" stroke="#3d7375" stroke-width="0.4"/>
<circle cx="597.70" cy="85.90" r="2.55" fill="#57979A" stroke="#3d7375" stroke-width="0.4"/>
<circle cx="595.40" cy="88.80" r="2.55" fill="#57979A" stroke="#3d7375" stroke-width="0.4"/>
<circle cx="600.80" cy="92.70" r="2.55" fill="#57979A" stroke="#3d7375" stroke-width="0.4"/>
<circle cx="609.70" cy="95.70" r="2.55" fill="#57979A" stroke="#3d7375" stroke-width="0.4"/>
<circle cx="591.90" cy="123.70" r="2.55" fill="#57979A" stroke="#3d7375" stroke-width="0.4"/>
<circle cx="607.70" cy="129.60" r="2.55" fill="#57979A" stroke="#3d7375" stroke-width="0.4"/>
<circle cx="599.20" cy="180.60" r="2.55" fill="#57979A" stroke="#3d7375" stroke-width="0.4"/>
<circle cx="605.80" cy="186.10" r="2.55" fill="#57979A" stroke="#3d7375" stroke-width="0.4"/>
<text x="394.80" y="17.30" text-anchor="middle" font-size="13" fill="#000" stroke="#000" stroke-width="0.3" font-family="Liberation Sans, sans-serif">*</text><text x="400.30" y="17.30" text-anchor="middle" font-size="13" fill="#000" stroke="#000" stroke-width="0.3" font-family="Liberation Sans, sans-serif">*</text><text x="405.80" y="17.30" text-anchor="middle" font-size="13" fill="#000" stroke="#000" stroke-width="0.3" font-family="Liberation Sans, sans-serif">*</text>
<text x="435.00" y="17.30" text-anchor="middle" font-size="13" fill="#000" stroke="#000" stroke-width="0.3" font-family="Liberation Sans, sans-serif">*</text><text x="440.50" y="17.30" text-anchor="middle" font-size="13" fill="#000" stroke="#000" stroke-width="0.3" font-family="Liberation Sans, sans-serif">*</text><text x="446.00" y="17.30" text-anchor="middle" font-size="13" fill="#000" stroke="#000" stroke-width="0.3" font-family="Liberation Sans, sans-serif">*</text>
<text x="475.20" y="17.30" text-anchor="middle" font-size="13" fill="#000" stroke="#000" stroke-width="0.3" font-family="Liberation Sans, sans-serif">*</text><text x="480.70" y="17.30" text-anchor="middle" font-size="13" fill="#000" stroke="#000" stroke-width="0.3" font-family="Liberation Sans, sans-serif">*</text><text x="486.20" y="17.30" text-anchor="middle" font-size="13" fill="#000" stroke="#000" stroke-width="0.3" font-family="Liberation Sans, sans-serif">*</text>
<text x="513.40" y="17.30" text-anchor="middle" font-size="13" fill="#000" stroke="#000" stroke-width="0.3" font-family="Liberation Sans, sans-serif">*</text><text x="518.90" y="17.30" text-anchor="middle" font-size="13" fill="#000" stroke="#000" stroke-width="0.3" font-family="Liberation Sans, sans-serif">*</text><text x="524.40" y="17.30" text-anchor="middle" font-size="13" fill="#000" stroke="#000" stroke-width="0.3" font-family="Liberation Sans, sans-serif">*</text>
<text x="560.70" y="17.30" text-anchor="middle" font-size="13" fill="#000" stroke="#000" stroke-width="0.3" font-family="Liberation Sans, sans-serif">*</text>
<text x="597.85" y="17.30" text-anchor="middle" font-size="13" fill="#000" stroke="#000" stroke-width="0.3" font-family="Liberation Sans, sans-serif">*</text><text x="603.35" y="17.30" text-anchor="middle" font-size="13" fill="#000" stroke="#000" stroke-width="0.3" font-family="Liberation Sans, sans-serif">*</text>
<path d="M376.40 3.40H627.00" stroke="#666" stroke-width="1.4" fill="none"/>
<path d="M626.40 2.80V273.40" stroke="#777" stroke-width="1.8" fill="none"/>
<path d="M376.40 272.80H627.00" stroke="#666" stroke-width="1.3" fill="none"/>
<path d="M377.00 2.80V273.40" stroke="#9a9a9a" stroke-width="2.0" fill="none"/>
</svg>
</body></html>
